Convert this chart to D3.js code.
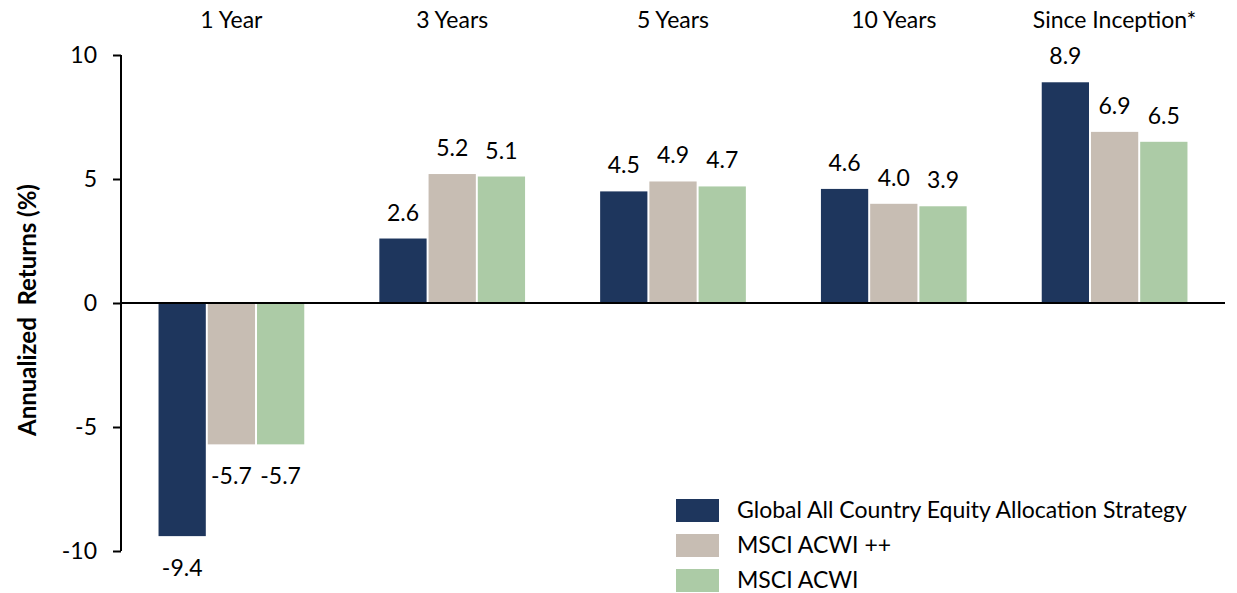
<!DOCTYPE html>
<html>
<head>
<meta charset="utf-8">
<script src="https://cdn.jsdelivr.net/npm/d3@7"></script>
<style>
  body { margin: 0; background: #fff; }
  text { font-family: Lato, "Open Sans", sans-serif; fill: #000; }
</style>
</head>
<body>
<div id="svgdiv"></div>
<script>
// chart data
var categories = ["1 Year", "3 Years", "5 Years", "10 Years", "Since Inception*"];
var seriesNames = ["Global All Country Equity Allocation Strategy", "MSCI ACWI ++", "MSCI ACWI"];
var strategy = [-9.4, 2.6, 4.5, 4.6, 8.9];
var acwiPlus = [-5.7, 5.2, 4.9, 4.0, 6.9];
var acwi = [-5.7, 5.1, 4.7, 3.9, 6.5];
var yTicks = [-10, -5, 0, 5, 10];

var colors = ["#1e365d", "#c7bdb3", "#accba6"];
var seriesValues = [strategy, acwiPlus, acwi];

var width = 1237, height = 593;
var fontSize = 23;

let svg = d3.select("#svgdiv").append("svg")
    .attr("width", width)
    .attr("height", height);

// scales
var x0 = d3.scaleBand()
    .domain(categories)
    .range([121, 1225])
    .paddingInner(0.34)
    .paddingOuter(0.17);

var x1 = d3.scaleBand()
    .domain(d3.range(seriesNames.length))
    .range([0, x0.bandwidth()])
    .paddingInner(0.04);

var y = d3.scaleLinear()
    .domain([-10, 10])
    .range([551, 55]);

// bars
var groups = svg.selectAll(".group")
    .data(categories)
    .enter().append("g")
    .attr("class", "group")
    .attr("transform", function(d) { return "translate(" + x0(d) + ",0)"; });

groups.selectAll("rect")
    .data(function(d, i) {
        return seriesValues.map(function(s, k) { return {k: k, v: s[i]}; });
    })
    .enter().append("rect")
    .attr("x", function(d) { return x1(d.k); })
    .attr("width", x1.bandwidth())
    .attr("y", function(d) { return y(Math.max(0, d.v)); })
    .attr("height", function(d) { return Math.abs(y(d.v) - y(0)); })
    .attr("fill", function(d) { return colors[d.k]; });

// value labels
groups.selectAll(".value")
    .data(function(d, i) {
        return seriesValues.map(function(s, k) { return {k: k, v: s[i]}; });
    })
    .enter().append("text")
    .attr("class", "value")
    .attr("x", function(d) { return x1(d.k) + x1.bandwidth() / 2; })
    .attr("y", function(d) { return d.v >= 0 ? y(d.v) - 18 : y(d.v) + 40; })
    .attr("text-anchor", "middle")
    .style("font-size", fontSize + "px")
    .text(function(d) { return d.v.toFixed(1); });

// category labels on top
svg.selectAll(".cat")
    .data(categories)
    .enter().append("text")
    .attr("class", "cat")
    .attr("x", function(d) { return x0(d) + x0.bandwidth() / 2; })
    .attr("y", 28)
    .attr("text-anchor", "middle")
    .style("font-size", fontSize + "px")
    .text(function(d) { return d; });

// y axis
var yAxis = d3.axisLeft(y)
    .tickValues(yTicks)
    .tickSize(8)
    .tickPadding(16)
    .tickFormat(function(d) { return String(d); });

var gy = svg.append("g")
    .attr("transform", "translate(121,0)")
    .call(yAxis);

gy.select(".domain").remove();
gy.append("line")
    .attr("x1", 0).attr("x2", 0)
    .attr("y1", y(10)).attr("y2", y(-10))
    .attr("stroke", "#000")
    .attr("stroke-width", 2);
gy.selectAll(".tick line").attr("stroke", "#000").attr("stroke-width", 2);
gy.selectAll(".tick text")
    .style("font-size", fontSize + "px")
    .style("font-family", "Lato, sans-serif")
    .attr("fill", "#000");

// zero line
svg.append("line")
    .attr("x1", 121).attr("x2", 1225)
    .attr("y1", y(0)).attr("y2", y(0))
    .attr("stroke", "#000")
    .attr("stroke-width", 2);

// axis title
svg.append("text")
    .attr("transform", "translate(36,310) rotate(-90)")
    .attr("text-anchor", "middle")
    .style("font-size", "24px")
    .style("font-weight", "bold")
    .style("white-space", "pre")
    .text("Annualized  Returns (%)");

// legend
var legend = svg.selectAll(".legend")
    .data(seriesNames)
    .enter().append("g")
    .attr("class", "legend")
    .attr("transform", function(d, i) { return "translate(676," + (499 + i * 35) + ")"; });

legend.append("rect")
    .attr("width", 43)
    .attr("height", 23)
    .attr("fill", function(d, i) { return colors[i]; });

legend.append("text")
    .attr("x", 61)
    .attr("y", 19)
    .style("font-size", fontSize + "px")
    .text(function(d) { return d; });
</script>
</body>
</html>
